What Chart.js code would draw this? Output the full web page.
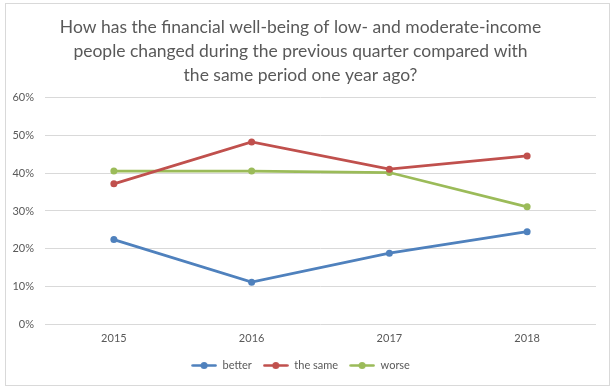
<!DOCTYPE html>
<html>
<head>
<meta charset="utf-8">
<script src="https://cdn.jsdelivr.net/npm/chart.js@4.4.0/dist/chart.umd.min.js"></script>
<style>
  html, body { margin: 0; padding: 0; background: #ffffff; }
  #wrap { position: absolute; left: 0; top: 0; width: 616px; height: 390px; }
</style>
</head>
<body>
<div id="wrap"><canvas id="c" width="616" height="390"></canvas></div>
<script>
const titleLines = [
  "How has the financial well-being of low- and moderate-income",
  "people changed during the previous quarter compared with",
  "the same period one year ago?"
];
const years = ["2015", "2016", "2017", "2018"];
const better = [22.4, 11.1, 18.8, 24.5];
const theSame = [37.2, 48.3, 41.1, 44.6];
const worse = [40.6, 40.6, 40.2, 31.1];
const seriesNames = ["better", "the same", "worse"];
const seriesColors = ["#4F81BD", "#C0504D", "#9BBB59"];

const FONT = "Lato, 'Liberation Sans', sans-serif";
const TEXT = "#595959";

function legendSymbol(color) {
  const c = document.createElement("canvas");
  c.width = 26; c.height = 9;
  const g = c.getContext("2d");
  g.strokeStyle = color; g.lineWidth = 2.5; g.lineCap = "round";
  g.beginPath(); g.moveTo(1.5, 4.5); g.lineTo(24.5, 4.5); g.stroke();
  g.fillStyle = color;
  g.beginPath(); g.arc(13, 4.5, 3.5, 0, Math.PI * 2); g.fill();
  return c;
}

const borderPlugin = {
  id: "frame",
  beforeDraw(chart) {
    const ctx = chart.ctx;
    ctx.save();
    ctx.fillStyle = "#ffffff";
    ctx.fillRect(0, 0, chart.width, chart.height);
    ctx.strokeStyle = "#d9d9d9";
    ctx.lineWidth = 1;
    ctx.strokeRect(5.5, 3.5, 604, 382);
    ctx.restore();
  }
};

const datasets = [better, theSame, worse].map((d, i) => ({
  label: seriesNames[i],
  data: d,
  borderColor: seriesColors[i],
  backgroundColor: seriesColors[i],
  borderWidth: 2.75,
  pointRadius: 3.5,
  pointHoverRadius: 3.5,
  pointBorderWidth: 0,
  tension: 0,
  fill: false
}));

new Chart(document.getElementById("c"), {
  type: "line",
  data: { labels: years, datasets },
  plugins: [borderPlugin],
  options: {
    responsive: false,
    animation: false,
    devicePixelRatio: 1,
    layout: { padding: { left: 5, right: 20, top: 15, bottom: 9 } },
    plugins: {
      tooltip: { enabled: false },
      title: {
        display: true,
        text: titleLines,
        color: TEXT,
        font: { family: FONT, size: 17.5, weight: "normal", lineHeight: 1.37 },
        padding: { top: 0, bottom: 11 }
      },
      legend: {
        position: "bottom",
        labels: {
          color: TEXT,
          font: { family: FONT, size: 11 },
          usePointStyle: true,
          pointStyleWidth: 26,
          padding: 11,
          generateLabels(chart) {
            return chart.data.datasets.map((ds, i) => ({
              text: ds.label,
              fillStyle: ds.borderColor,
              strokeStyle: ds.borderColor,
              fontColor: TEXT,
              pointStyle: legendSymbol(ds.borderColor),
              lineWidth: 0,
              datasetIndex: i,
              hidden: false
            }));
          }
        }
      }
    },
    scales: {
      x: {
        offset: true,
        afterFit(scale) { scale.height = 25; },
        grid: { display: false, drawTicks: false, offset: true },
        border: { display: false },
        ticks: { color: TEXT, font: { family: FONT, size: 11 }, padding: 8 }
      },
      y: {
        min: 0, max: 60,
        afterFit(scale) { scale.width = 40; },
        grid: { color: "#d9d9d9", lineWidth: 1, drawTicks: false },
        border: { display: false },
        ticks: {
          stepSize: 10,
          color: TEXT,
          font: { family: FONT, size: 11 },
          padding: 11,
          callback: v => v + "%"
        }
      }
    }
  }
});
</script>
</body>
</html>
